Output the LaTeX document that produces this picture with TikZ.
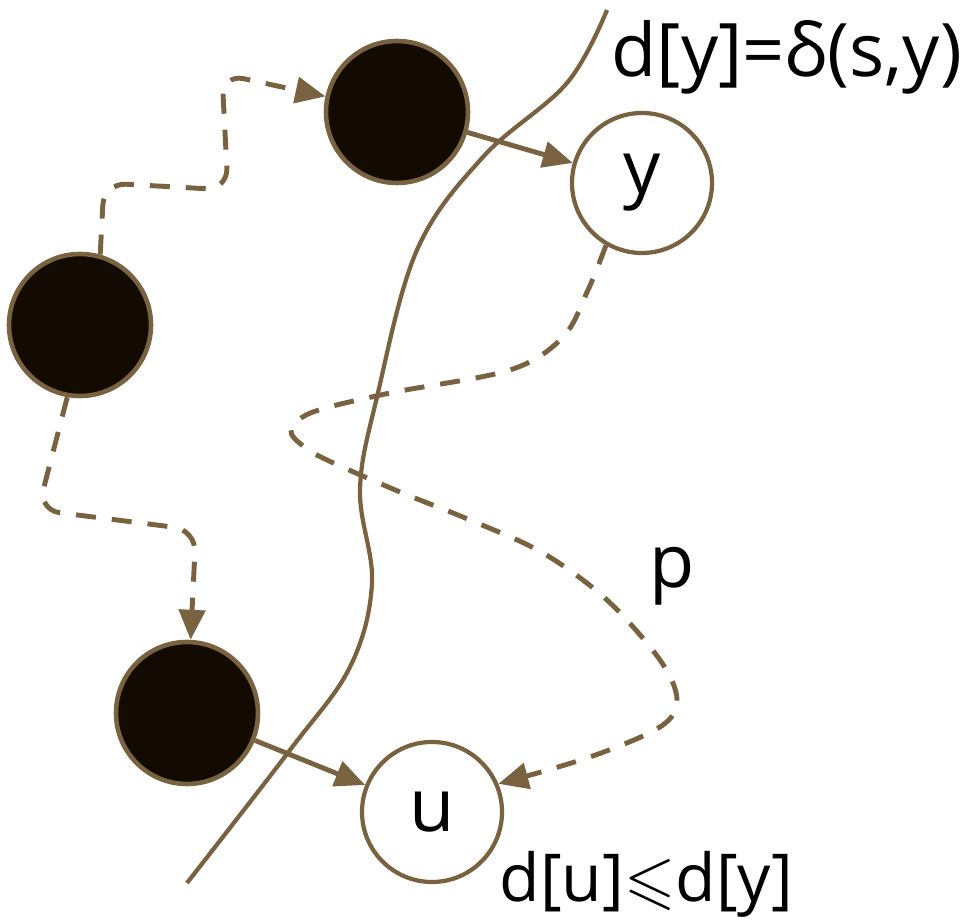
\documentclass[tikz,border=0pt]{standalone}
\usepackage{fontspec}
\usepackage{amssymb}
\setmainfont{Open Sans}
\usetikzlibrary{arrows.meta}
\definecolor{edge}{HTML}{786240}
\definecolor{ink}{HTML}{130B02}

\begin{document}
\begin{tikzpicture}[
  x=0.1mm, y=-0.1mm,
  blk/.style={circle,draw=edge,line width=1.3pt,fill=ink,minimum size=14.2mm,inner sep=0pt},
  wht/.style={circle,draw=edge,line width=1.2pt,fill=white,minimum size=14mm,inner sep=0pt,font=\fontsize{21}{25}\selectfont},
  arr/.style={-{Triangle[length=3mm,width=2.6mm]},draw=edge,line width=1.4pt},
  darr/.style={arr,dash pattern=on 2mm off 1.6mm},
  cut/.style={draw=edge,line width=1.2pt},
  lbl/.style={font=\fontsize{21}{25}\selectfont,inner sep=0pt,anchor=base west}
]
  \useasboundingbox (0,0) rectangle (963,924);

  % the cut
  \draw[cut] plot[smooth,tension=0.6] coordinates {(607,10) (567,83) (483,157) (417,250)
    (377,397) (360,490) (372,583) (350,667) (290,750) (187,883)};

  \node[blk] (s) at (80,325) {};
  \node[blk] (x) at (397,112) {};
  \node[blk] (w) at (187,713) {};
  \node[wht] (y) at (642,183) {y};
  \node[wht] (u) at (432,812) {u};

  \draw[darr,rounded corners=2.2mm] (s.74) -- (104,183) -- (228,190) -- (222,74) -- (x);
  \draw[darr,rounded corners=2.2mm] (s.-100) -- (38,510) -- (196,530) -- (w);
  \draw[arr] (x) -- (y);
  \draw[arr] (w) -- (u);
  \draw[darr] plot[smooth,tension=0.55] coordinates {(y.-120) (588,290) (563,337)
    (510,370) (390,393) (313,412) (291,430) (303,446) (327,460) (400,492) (470,520)
    (543,553) (607,600) (660,660) (677,700) (660,727) (590,757) (u.23)};

  \node[lbl] (dy) at (611,77) {d[y]=δ(s,y)};
  \node[lbl] (pl) at (649,588) {p};
  \node[lbl,font=\fontsize{18.8}{22}\selectfont] (du) at (499,902) {d[u]\ensuremath{\leqslant}d[y]};
\end{tikzpicture}
\end{document}
